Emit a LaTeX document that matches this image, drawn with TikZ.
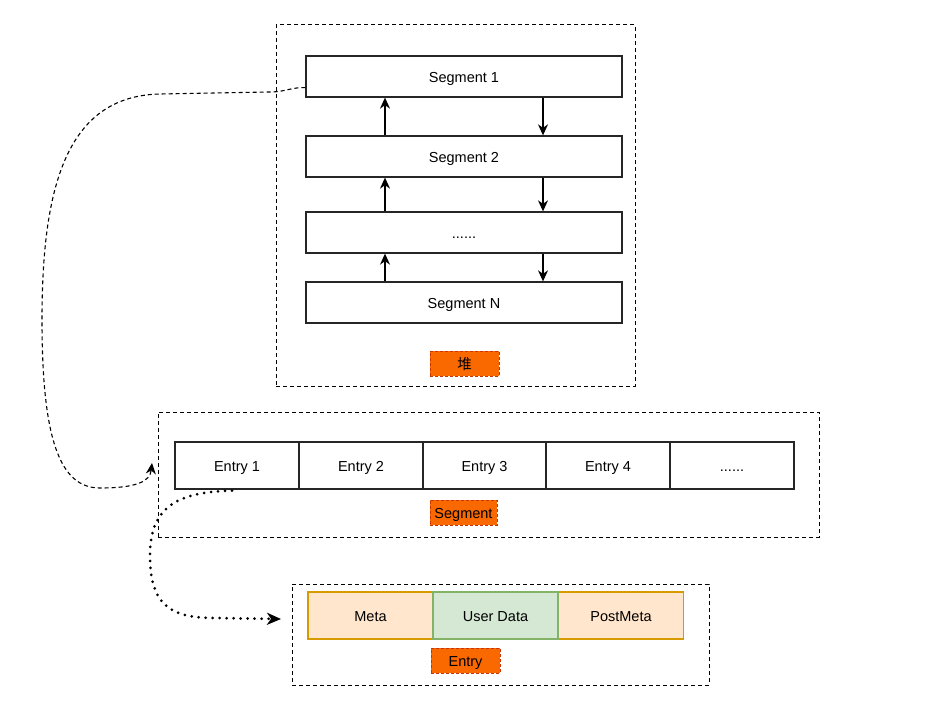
\documentclass[tikz,border=0pt]{standalone}
\usepackage{fontspec}
\setmainfont{Liberation Sans}
\newfontfamily\cjk{Noto Sans CJK SC}
\usetikzlibrary{arrows.meta,calc}
\definecolor{lblfill}{RGB}{250,104,0}
\definecolor{lbldraw}{RGB}{199,53,0}
\definecolor{orfill}{RGB}{255,230,204}
\definecolor{ordraw}{RGB}{215,155,0}
\definecolor{grfill}{RGB}{213,232,212}
\definecolor{grdraw}{RGB}{130,179,102}
\tikzset{
  every node/.style={font=\fontsize{14.5}{17}\selectfont, inner sep=0pt, text height=12.4pt, text depth=0pt},
  container/.style={draw=black, line width=1pt, dash pattern=on 4pt off 3pt, rectangle},
  box/.style={draw=black!85, line width=1.3pt, rectangle, minimum width=316pt, minimum height=41pt},
  entrybox/.style={draw=black!85, line width=1.3pt, rectangle, minimum width=124pt, minimum height=47pt},
  lbl/.style={fill=lblfill, draw=lbldraw, line width=1pt, dash pattern=on 3pt off 2pt, rectangle, minimum height=25pt},
  partbox/.style={line width=1.3pt, rectangle, minimum width=125pt, minimum height=47pt},
  link/.style={-{Stealth[length=11pt,width=10pt,inset=3.5pt]}, line width=1.3pt, black},
}
\begin{document}
\begin{tikzpicture}[x=1pt,y=-1pt]
\useasboundingbox (0,0) rectangle (939,706);
\fill[white] (0,0) rectangle (939,706);
% heap
\node[container, minimum width=359pt, minimum height=361pt] (heap) at (455.5,205.5) {};
\node[box] (s1) at (464,76.5) {Segment 1};
\node[box] (s2) at (464,156.5) {Segment 2};
\node[box] (s3) at (464,232.5) {......};
\node[box] (sN) at (464,302.5) {Segment N};
\node[lbl, minimum width=69pt] (heaplbl) at (464.5,363.5) {\cjk 堆};
\coordinate (upx) at (385,0);
\coordinate (dnx) at (543,0);
\draw[link] (s2.north -| upx) -- (s1.south -| upx);
\draw[link] (s3.north -| upx) -- (s2.south -| upx);
\draw[link] (sN.north -| upx) -- (s3.south -| upx);
\draw[link] (s1.south -| dnx) -- (s2.north -| dnx);
\draw[link] (s2.south -| dnx) -- (s3.north -| dnx);
\draw[link] (s3.south -| dnx) -- (sN.north -| dnx);
% segment
\node[container, minimum width=661pt, minimum height=125pt] (seg) at (488.5,474.5) {};
\node[entrybox] (e1) at (237,465.5) {Entry 1};
\node[entrybox] (e2) at (361,465.5) {Entry 2};
\node[entrybox] (e3) at (484.5,465.5) {Entry 3};
\node[entrybox] (e4) at (608,465.5) {Entry 4};
\node[entrybox] (e5) at (732,465.5) {......};
\node[lbl, minimum width=67pt] (seglbl) at (463.5,512.5) {Segment};
% entry
\node[container, minimum width=417pt, minimum height=101pt] (ent) at (500.5,634.5) {};
\node[partbox, fill=orfill, draw=ordraw] (meta) at (370.5,615.5) {Meta};
\node[partbox, fill=orfill, draw=ordraw] (pmeta) at (621,615.5) {PostMeta};
\node[partbox, fill=grfill, draw=grdraw] (ud) at (495.5,615.5) {User Data};
\node[lbl, minimum width=69pt] (entlbl) at (465.5,660.5) {Entry};
% curved connectors
\coordinate (c1end) at (152,463);
\draw[line width=1.1pt, dash pattern=on 4pt off 3pt, -{Stealth[length=11pt,width=10pt,inset=3.5pt]}]
  ($(s1.south west)+(0,-10)$) .. controls (292,87) and (285,92) .. (270,92)
  -- (160,94) .. controls (65,96) and (42,190) .. (42,320)
  .. controls (42,440) and (60,488) .. (100,488)
  .. controls (135,488) and (150,482) .. (c1end);
\coordinate (c2end) at (281,619);
\draw[line width=3pt, line cap=round, dash pattern=on 0pt off 7pt, -{Stealth[length=14pt,width=12pt,inset=4pt]}]
  ($(e1.south)+(-5,1)$) .. controls (180,492) and (150,505) .. (150,555)
  .. controls (150,605) and (170,618) .. (215,618) -- (c2end);
\end{tikzpicture}
\end{document}
